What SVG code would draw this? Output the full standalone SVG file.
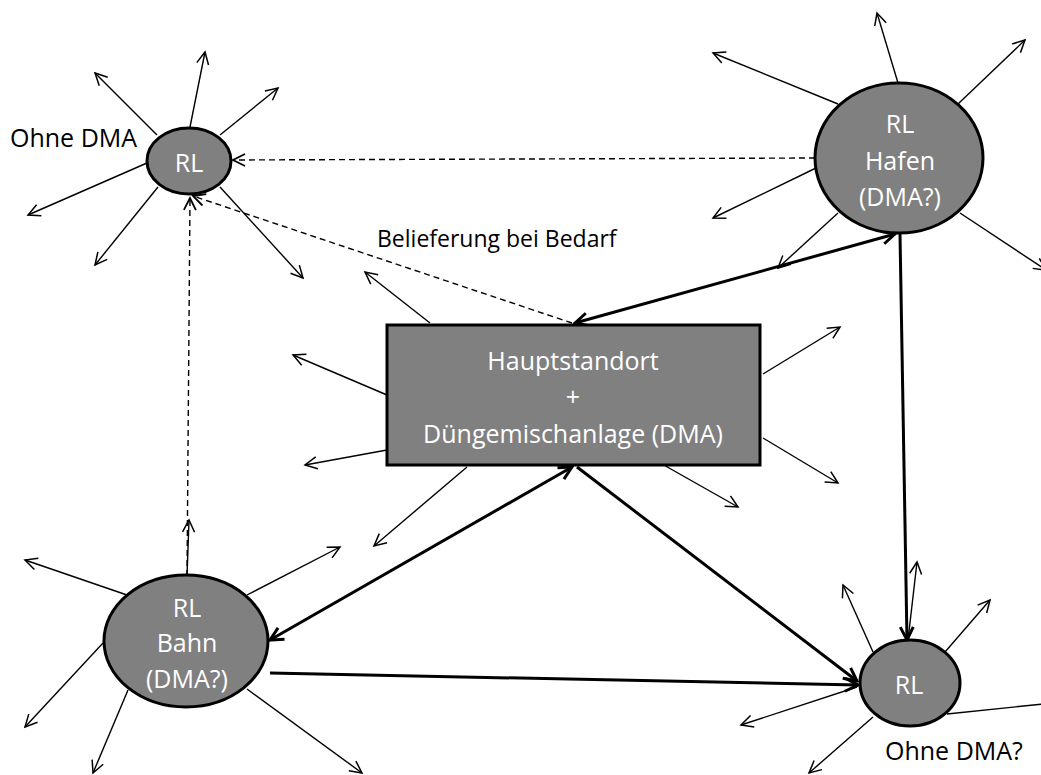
<svg xmlns="http://www.w3.org/2000/svg" width="1041" height="775" viewBox="0 0 1041 775">
<style>
.node{fill:#808080;stroke:#000;stroke-width:3}
.nt{font-family:"Open Sans","Liberation Sans",sans-serif;font-size:25px;fill:#fff;text-anchor:middle}
.lbl{font-family:"Open Sans","Liberation Sans",sans-serif;font-size:25px;fill:#000}
.thin{stroke:#000;stroke-width:1.4;fill:none;marker-end:url(#at)}
.thick{stroke:#000;stroke-width:3;fill:none;marker-end:url(#ak)}
.dbl{marker-start:url(#ak)}
.dash{stroke:#000;stroke-width:1.4;fill:none;stroke-dasharray:6 4;marker-end:url(#ad)}
</style>
<defs>
<marker id="at" markerUnits="userSpaceOnUse" viewBox="-14 -10 16 20" markerWidth="16" markerHeight="20" refX="0" refY="0" orient="auto-start-reverse">
<path d="M-12,-6 L0,0 L-12,6" fill="none" stroke="#000" stroke-width="1.5"/>
</marker>
<marker id="ad" markerUnits="userSpaceOnUse" viewBox="-14 -10 16 20" markerWidth="16" markerHeight="20" refX="0" refY="0" orient="auto-start-reverse">
<path d="M-12,-6 L0,0 L-12,6" fill="none" stroke="#000" stroke-width="1.8"/>
</marker>
<marker id="ak" markerUnits="userSpaceOnUse" viewBox="-16 -10 18 20" markerWidth="18" markerHeight="20" refX="0" refY="0" orient="auto-start-reverse">
<path d="M-13,-6.5 L0,0 L-13,6.5" fill="none" stroke="#000" stroke-width="3"/>
</marker>
</defs>
<rect width="1041" height="775" fill="#fff"/>
<g id="connectors">
<!-- outgoing thin arrows: top-left RL -->
<line class="thin" x1="190" y1="127" x2="205" y2="52"/>
<line class="thin" x1="157" y1="135" x2="95" y2="73"/>
<line class="thin" x1="220" y1="135" x2="278" y2="88"/>
<line class="thin" x1="147" y1="163" x2="28" y2="215"/>
<line class="thin" x1="158" y1="187" x2="95" y2="265"/>
<line class="thin" x1="220" y1="187" x2="303" y2="278"/>
<!-- Hafen -->
<line class="thin" x1="898" y1="83" x2="877" y2="13"/>
<line class="thin" x1="838" y1="104" x2="713" y2="53"/>
<line class="thin" x1="958" y1="104" x2="1025" y2="40"/>
<line class="thin" x1="816" y1="168" x2="713" y2="218"/>
<line class="thin" x1="838" y1="213" x2="778" y2="268"/>
<line class="thin" x1="960" y1="213" x2="1046" y2="270"/>
<!-- Hauptstandort -->
<line class="thin" x1="430" y1="323" x2="365" y2="272"/>
<line class="thin" x1="387" y1="395" x2="293" y2="355"/>
<line class="thin" x1="387" y1="450" x2="305" y2="465"/>
<line class="thin" x1="467" y1="467" x2="374" y2="546"/>
<line class="thin" x1="662" y1="464" x2="738" y2="507"/>
<line class="thin" x1="763" y1="374" x2="840" y2="327"/>
<line class="thin" x1="763" y1="438" x2="838" y2="483"/>
<!-- Bahn -->
<line class="thin" x1="187" y1="576" x2="189" y2="520"/>
<line class="thin" x1="127" y1="595" x2="25" y2="560"/>
<line class="thin" x1="247" y1="595" x2="340" y2="547"/>
<line class="thin" x1="103" y1="643" x2="25" y2="727"/>
<line class="thin" x1="128" y1="690" x2="93" y2="773"/>
<line class="thin" x1="247" y1="689" x2="362" y2="773"/>
<!-- bottom-right RL -->
<line class="thin" x1="908" y1="640" x2="917" y2="562"/>
<line class="thin" x1="873" y1="652" x2="843" y2="585"/>
<line class="thin" x1="945" y1="652" x2="990" y2="600"/>
<line class="thin" x1="857" y1="687" x2="741" y2="725"/>
<line class="thin" x1="947" y1="714" x2="1062" y2="702"/>
<line class="thin" x1="873" y1="717" x2="809" y2="773"/>
<!-- dashed -->
<line class="dash" x1="815" y1="158" x2="233" y2="160"/>
<line class="dash" x1="572" y1="323" x2="193" y2="196"/>
<line class="dash" x1="187" y1="576" x2="190" y2="198"/>
<!-- thick -->
<line class="thick dbl" x1="575" y1="323" x2="895" y2="234"/>
<line class="thick" x1="900" y1="234" x2="907" y2="640"/>
<line class="thick dbl" x1="572" y1="467" x2="270" y2="640"/>
<line class="thick" x1="577" y1="467" x2="857" y2="681"/>
<line class="thick" x1="270" y1="673" x2="858" y2="685"/>
</g>
<g id="rl-ohne-dma">
<ellipse class="node" cx="189" cy="161" rx="42" ry="33"/>
<text class="nt" x="189" y="172">RL</text>
</g>
<g id="rl-hafen">
<ellipse class="node" cx="899" cy="158" rx="84" ry="75"/>
<text class="nt" x="900" y="133">RL</text>
<text class="nt" x="900" y="170">Hafen</text>
<text class="nt" x="900" y="206">(DMA?)</text>
</g>
<g id="hauptstandort">
<rect class="node" x="387" y="325" width="373" height="140"/>
<text class="nt" x="573" y="370">Hauptstandort</text>
<text class="nt" x="573" y="406">+</text>
<text class="nt" x="573" y="443">Düngemischanlage (DMA)</text>
</g>
<g id="rl-bahn">
<ellipse class="node" cx="186" cy="641" rx="82" ry="66"/>
<text class="nt" x="187" y="617">RL</text>
<text class="nt" x="187" y="652">Bahn</text>
<text class="nt" x="187" y="688">(DMA?)</text>
</g>
<g id="rl-ohne-dma-q">
<ellipse class="node" cx="910" cy="683" rx="50" ry="43"/>
<text class="nt" x="909" y="694">RL</text>
</g>
<g id="labels">
<text class="lbl" x="10" y="147">Ohne DMA</text>
<text class="lbl" x="885" y="760">Ohne DMA?</text>
<text class="lbl" x="377" y="247" style="font-size:23px">Belieferung bei Bedarf</text>
</g>
</svg>
